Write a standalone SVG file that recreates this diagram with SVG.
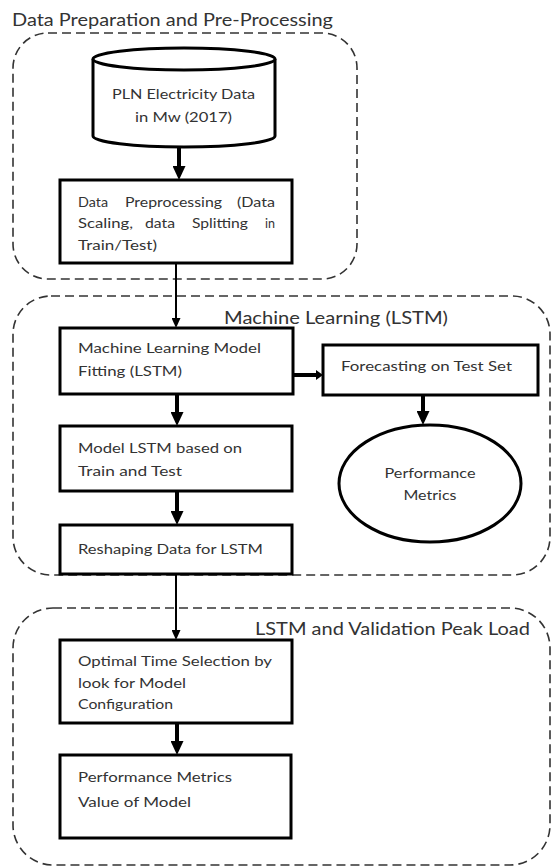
<svg xmlns="http://www.w3.org/2000/svg" width="552" height="867" viewBox="0 0 552 867">
<defs>
<style>
.grp{fill:none;stroke:#333;stroke-width:1.6;stroke-dasharray:9 5}
.node{fill:#fff;stroke:#000;stroke-width:3}
.t{font-family:Lato,"Liberation Sans",sans-serif;font-size:14px;fill:#333}
.title{font-family:Lato,"Liberation Sans",sans-serif;font-size:17px;fill:#333}
.thick{stroke:#000;stroke-width:4;fill:none}
.thin{stroke:#000;stroke-width:2;fill:none}
</style>
<marker id="hThick" markerUnits="userSpaceOnUse" markerWidth="14" markerHeight="13" refX="4" refY="6.5" orient="auto">
<path d="M0,0 L14,6.5 L0,13 z" fill="#000"/>
</marker>
<marker id="hThin" markerUnits="userSpaceOnUse" markerWidth="10" markerHeight="9" refX="3" refY="4.5" orient="auto">
<path d="M0,0 L10,4.5 L0,9 z" fill="#000"/>
</marker>
<marker id="hSmall" markerUnits="userSpaceOnUse" markerWidth="7" markerHeight="10" refX="2" refY="5" orient="auto">
<path d="M0,0 L7,5 L0,10 z" fill="#000"/>
</marker>
</defs>
<rect width="552" height="867" fill="#fff"/>

<g id="group-prep">
<rect class="grp" x="13" y="33" width="344" height="246" rx="35"/>
<text class="title" x="12" y="26" textLength="321" lengthAdjust="spacingAndGlyphs">Data Preparation and Pre-Processing</text>
</g>
<g id="group-ml">
<rect class="grp" x="13" y="296" width="537" height="279" rx="38"/>
<text class="title" x="224" y="324" textLength="224" lengthAdjust="spacingAndGlyphs">Machine Learning (LSTM)</text>
</g>
<g id="group-val">
<rect class="grp" x="13" y="608" width="537" height="257" rx="40"/>
<text class="title" x="255" y="635" textLength="275" lengthAdjust="spacingAndGlyphs">LSTM and Validation Peak Load</text>
</g>

<g id="connectors">
<line class="thick" x1="179" y1="147" x2="179" y2="170" marker-end="url(#hThick)"/>
<line class="thin" x1="176" y1="263" x2="176" y2="321" marker-end="url(#hThin)"/>
<line class="thick" x1="177" y1="394" x2="177" y2="416" marker-end="url(#hThick)"/>
<line class="thick" x1="177" y1="491" x2="177" y2="515" marker-end="url(#hThick)"/>
<line class="thin" x1="176" y1="574" x2="176" y2="633" marker-end="url(#hThin)"/>
<line class="thick" x1="177" y1="723" x2="177" y2="745" marker-end="url(#hThick)"/>
<line class="thick" x1="291" y1="375" x2="318" y2="375" marker-end="url(#hSmall)"/>
<line class="thick" x1="423" y1="395" x2="423" y2="415" marker-end="url(#hThick)"/>
</g>

<g id="node-pln">
<path class="node" d="M93,59 L93,136 A91,11 0 0 0 275,136 L275,59"/>
<ellipse class="node" cx="184" cy="59" rx="91" ry="11"/>
<text class="t" x="112" y="99" textLength="143" lengthAdjust="spacingAndGlyphs">PLN Electricity  Data</text>
<text class="t" x="135" y="122" textLength="97" lengthAdjust="spacingAndGlyphs">in Mw (2017)</text>
</g>

<g id="node-preprocessing">
<rect class="node" x="60" y="180" width="232" height="83"/>
<text class="t" y="207"><tspan x="78" textLength="30" lengthAdjust="spacingAndGlyphs">Data</tspan><tspan x="125" textLength="97" lengthAdjust="spacingAndGlyphs">Preprocessing</tspan><tspan x="237" textLength="38" lengthAdjust="spacingAndGlyphs">(Data</tspan></text>
<text class="t" y="228"><tspan x="78" textLength="55" lengthAdjust="spacingAndGlyphs">Scaling,</tspan><tspan x="145" textLength="30" lengthAdjust="spacingAndGlyphs">data</tspan><tspan x="192" textLength="56" lengthAdjust="spacingAndGlyphs">Splitting</tspan><tspan x="265" textLength="10" lengthAdjust="spacingAndGlyphs">in</tspan></text>
<text class="t" x="78" y="250" textLength="79" lengthAdjust="spacingAndGlyphs">Train/Test)</text>
</g>

<g id="node-fitting">
<rect class="node" x="60" y="328" width="233" height="66"/>
<text class="t" x="78" y="353" textLength="183" lengthAdjust="spacingAndGlyphs">Machine Learning Model</text>
<text class="t" x="78" y="376" textLength="104" lengthAdjust="spacingAndGlyphs">Fitting (LSTM)</text>
</g>

<g id="node-forecasting">
<rect class="node" x="323" y="345" width="215" height="50"/>
<text class="t" x="341" y="371" textLength="171" lengthAdjust="spacingAndGlyphs">Forecasting on Test Set</text>
</g>

<g id="node-metrics">
<ellipse class="node" cx="430" cy="483.5" rx="91" ry="58.5"/>
<text class="t" x="430" y="478" text-anchor="middle" textLength="91" lengthAdjust="spacingAndGlyphs">Performance</text>
<text class="t" x="430" y="500" text-anchor="middle" textLength="53" lengthAdjust="spacingAndGlyphs">Metrics</text>
</g>

<g id="node-model">
<rect class="node" x="60" y="426" width="232" height="65"/>
<text class="t" x="78" y="453" textLength="164" lengthAdjust="spacingAndGlyphs">Model LSTM based on</text>
<text class="t" x="78" y="476" textLength="104" lengthAdjust="spacingAndGlyphs">Train and Test</text>
</g>

<g id="node-reshaping">
<rect class="node" x="60" y="525" width="232" height="49"/>
<text class="t" x="78" y="554" textLength="185" lengthAdjust="spacingAndGlyphs">Reshaping Data for LSTM</text>
</g>

<g id="node-optimal">
<rect class="node" x="60" y="640" width="232" height="83"/>
<text class="t" x="78" y="666" textLength="194" lengthAdjust="spacingAndGlyphs">Optimal Time Selection by</text>
<text class="t" x="78" y="688" textLength="108" lengthAdjust="spacingAndGlyphs">look for Model</text>
<text class="t" x="78" y="709" textLength="95" lengthAdjust="spacingAndGlyphs">Configuration</text>
</g>

<g id="node-value">
<rect class="node" x="60" y="755" width="231" height="83"/>
<text class="t" x="78" y="782" textLength="154" lengthAdjust="spacingAndGlyphs">Performance  Metrics</text>
<text class="t" x="78" y="807" textLength="113" lengthAdjust="spacingAndGlyphs">Value of Model</text>
</g>
</svg>
